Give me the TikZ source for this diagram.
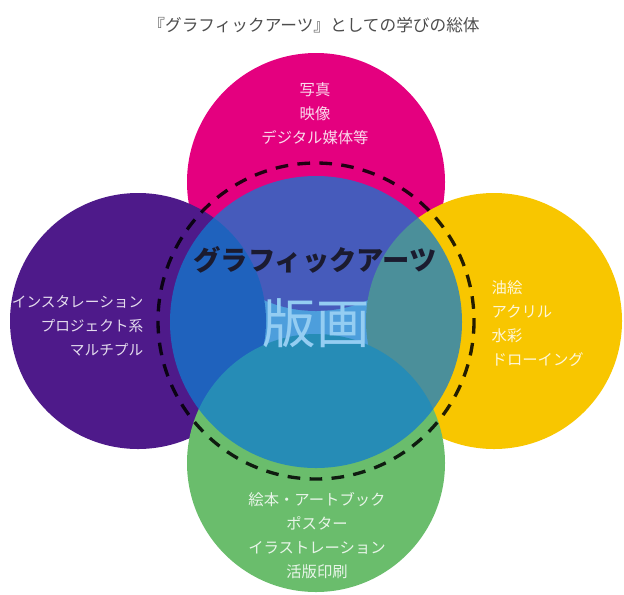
\documentclass[tikz,border=0pt]{standalone}
\usepackage{fontspec}
\usepackage{xcolor}
\usepackage{tikz}
\usetikzlibrary{positioning}
\newfontfamily\jpfont{Noto Sans CJK JP}
\definecolor{Magenta}{HTML}{E4007F}
\definecolor{Violet}{HTML}{4E1A8A}
\definecolor{Gold}{HTML}{F8C600}
\definecolor{Leaf}{HTML}{6ABD6C}
\definecolor{Core}{HTML}{0F7CD0}
\definecolor{Ink}{HTML}{1B1B2F}
\definecolor{Title}{HTML}{4D4D4D}
\definecolor{Pale}{HTML}{94CDF2}

\begin{document}
\begin{tikzpicture}[
  x=0.75pt, y=-0.75pt,
  font=\jpfont,
  field/.style={text=white, text opacity=0.85, font=\jpfont\fontsize{11.5pt}{18pt}\selectfont},
  ring/.style={draw=black, draw opacity=0.85, line width=2.5pt, dash pattern=on 9.5pt off 7pt}
]
\useasboundingbox (0,0) rectangle (624,594);

% outer fields
\fill[Magenta] (316,182) circle[radius=129];
\fill[Violet] (138,321) circle[radius=128];
\fill[Gold] (494,321) circle[radius=128];
\fill[Leaf] (316,463) circle[radius=129];

% core
\fill[Core, opacity=0.74] (316,322) circle[radius=146];
\draw[ring] (316,321) circle[radius=158];

\node[text=Title, font=\jpfont\fontsize{12.5pt}{15pt}\selectfont] (title) at (314,25) {『グラフィックアーツ』としての学びの総体};

\node[field, align=center] (media) at (315,114) {写真\\映像\\デジタル媒体等};
\node[field, align=right, anchor=east, font=\jpfont\fontsize{11pt}{18pt}\selectfont] (space) at (148,326) {インスタレーション\\プロジェクト系\\マルチプル};
\node[field, align=left, anchor=west] (paint) at (487,324) {油絵\\アクリル\\水彩\\ドローイング};
\node[field, align=center] (book) at (317,536) {絵本・アートブック\\ポスター\\イラストレーション\\活版印刷};

\node[text=Ink, font=\jpfont\bfseries\fontsize{20.5pt}{24pt}\selectfont] (arts) at (315,260) {グラフィックアーツ};
\node[text=Pale, font=\jpfont\fontsize{40pt}{48pt}\selectfont] (print) at (316,323) {版画};
\end{tikzpicture}
\end{document}
